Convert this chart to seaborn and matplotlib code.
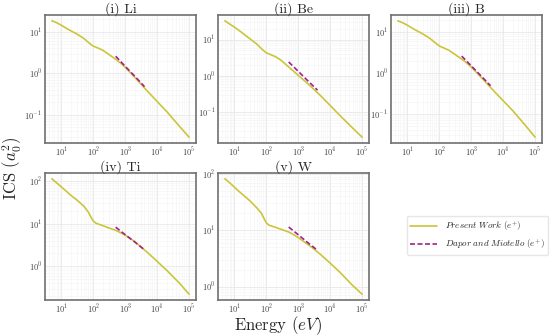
import numpy as np
import pandas as pd
import matplotlib
matplotlib.use('Agg')
import matplotlib.pyplot as plt
import seaborn as sns

# energies (eV) for the present work curves
energy = [5, 7, 10, 15, 20, 30, 50, 70, 90, 100, 120, 150, 200, 300, 500, 700,
          1000, 2000, 3000, 5000, 1e4, 2e4, 5e4, 1e5]

ics_li = [18.6, 16.8, 14.5, 12.0, 10.6, 9.0, 7.0, 5.6, 4.8, 4.55, 4.3, 4.0, 3.6, 2.9,
          2.2, 1.8, 1.4, 0.8, 0.57, 0.37, 0.21, 0.12, 0.053, 0.029]
ics_be = [33, 27, 22, 17, 14, 10.6, 7.5, 5.6, 4.6, 4.3, 4.0, 3.7, 3.3, 2.6,
          1.75, 1.35, 1.02, 0.6, 0.43, 0.28, 0.15, 0.08, 0.036, 0.02]
ics_b = [19, 17.1, 14.8, 12.2, 10.8, 9.1, 7.1, 5.7, 4.9, 4.6, 4.3, 4.0, 3.6, 2.9,
         2.2, 1.8, 1.4, 0.8, 0.57, 0.37, 0.21, 0.12, 0.052, 0.027]
ics_ti = [114, 92, 73, 56, 46, 36.5, 26, 18.6, 13, 11.5, 10.3, 9.7, 9.0, 8.0,
          7.0, 6.2, 5.4, 3.8, 2.9, 2.1, 1.3, 0.8, 0.4, 0.22]
ics_w = [82, 70, 58, 47, 41, 33.5, 25, 20, 15, 13.5, 12.3, 11.8, 11.2, 10.3,
         9.3, 8.4, 7.4, 5.6, 4.7, 3.7, 2.6, 1.8, 1.05, 0.73]

# Dapor and Miotello
energy_dm = [500, 1000, 2000, 3000, 4000]
dm_li = [2.6, 1.48, 0.85, 0.61, 0.48]
dm_be = [2.4, 1.32, 0.72, 0.51, 0.40]
dm_b = [2.6, 1.5, 0.86, 0.62, 0.49]
dm_ti = [8.3, 5.5, 3.7, 2.9, 2.45]
dm_w = [11.4, 8.3, 6.0, 5.0, 4.4]

titles = ['(i) Li', '(ii) Be', '(iii) B', '(iv) Ti', '(v) W']
present = [ics_li, ics_be, ics_b, ics_ti, ics_w]
dapor = [dm_li, dm_be, dm_b, dm_ti, dm_w]

sns.set_style('whitegrid')
plt.rcParams['font.family'] = 'serif'
plt.rcParams['font.serif'] = ['cmr10', 'DejaVu Serif']
plt.rcParams['mathtext.fontset'] = 'cm'
plt.rcParams['axes.formatter.use_mathtext'] = True
plt.rcParams['axes.unicode_minus'] = False

fig = plt.figure(figsize=(5.5, 3.36), dpi=100)

lefts = [0.0818, 0.3964, 0.7109]
width = 0.2745
rows = [(0.5744, 0.381), (0.1071, 0.378)]

c_pw = '#cbc53a'
c_dm = '#a3208f'

for i in range(5):
    r, c = divmod(i, 3)
    ax = fig.add_axes([lefts[c], rows[r][0], width, rows[r][1]])
    df1 = pd.DataFrame({'E': energy, 'ICS': present[i]})
    df2 = pd.DataFrame({'E': energy_dm, 'ICS': dapor[i]})
    sns.lineplot(data=df1, x='E', y='ICS', ax=ax, color=c_pw, lw=1.2,
                 label=r'$\mathit{Present\ Work}\ (e^{+})$', legend=False)
    sns.lineplot(data=df2, x='E', y='ICS', ax=ax, color=c_dm, lw=1.2,
                 linestyle=(0, (3, 1.5)), label=r'$\mathit{Dapor\ and\ Miotello}\ (e^{+})$',
                 legend=False)
    ax.set_xscale('log')
    ax.set_yscale('log')
    ax.set_xticks([1e1, 1e2, 1e3, 1e4, 1e5])
    ax.grid(True, which='major', color='#e8e8e8', lw=0.6)
    ax.grid(True, which='minor', color='#f3f3f3', lw=0.4)
    ax.tick_params(which='both', length=0, labelsize=6, pad=2, labelcolor='#444444')
    for s in ax.spines.values():
        s.set_color('#707070')
        s.set_linewidth(1.2)
    ax.set_xlabel('')
    ax.set_ylabel('')
    ax.set_title(titles[i], fontsize=10, pad=2)
    if i == 0:
        handles, labels = ax.get_legend_handles_labels()

fig.text(0.022, 0.5, r'ICS $(a_0^2)$', rotation=90, va='center', ha='center', fontsize=12)
fig.text(0.505, 0.03, r'Energy $(eV)$', va='center', ha='center', fontsize=12)

leg = fig.legend(handles, labels, loc='center', bbox_to_anchor=(0.868, 0.30),
                 fontsize=6.5, frameon=True, handlelength=3)
leg.get_frame().set_edgecolor('#e0e0e0')

plt.savefig('out.png', dpi=100)
